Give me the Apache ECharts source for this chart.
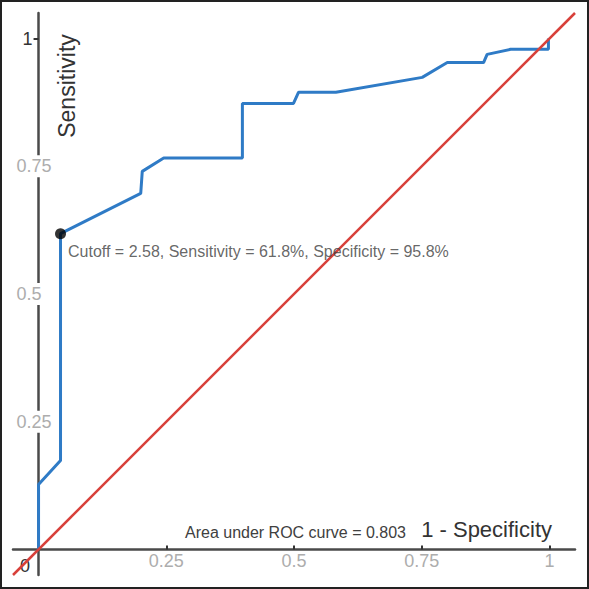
<!DOCTYPE html>
<html>
<head>
<meta charset="utf-8">
<script src="https://cdn.jsdelivr.net/npm/echarts@6/dist/echarts.min.js"></script>
<style>
html,body{margin:0;padding:0;background:#fff;}
#chart{width:589px;height:589px;}
</style>
</head>
<body>
<div id="chart"></div>
<script>
// ROC curve points (1 - specificity, sensitivity)
const fpr = [0, 0, 0.043, 0.043, 0.200, 0.203, 0.245, 0.399, 0.399, 0.499, 0.509, 0.582, 0.751, 0.800, 0.871, 0.878, 0.924, 0.998, 0.998];
const tpr = [0, 0.127, 0.174, 0.618, 0.697, 0.740, 0.766, 0.766, 0.873, 0.873, 0.895, 0.895, 0.924, 0.953, 0.953, 0.969, 0.979, 0.979, 1.000];
// reference diagonal
const diagX = [-0.05, 1.05];
const diagY = [-0.05, 1.05];
// optimal cutoff point
const cutoffPoint = [0.043, 0.618];
const cutoffText = 'Cutoff = 2.58, Sensitivity = 61.8%, Specificity = 95.8%';
const aucText = 'Area under ROC curve = 0.803';
const xTitle = '1 - Specificity';
const yTitle = 'Sensitivity';
const xTicks = [0.25, 0.5, 0.75, 1];
const yTicks = [0.25, 0.5, 0.75, 1];
const originLabel = '0';

const FONT = "'Liberation Sans', Arial, sans-serif";
const chart = echarts.init(document.getElementById('chart'), null, {renderer: 'svg'});

const rocData = fpr.map((x, i) => [x, tpr[i]]);
const diagData = diagX.map((x, i) => [x, diagY[i]]);

const fmt = v => String(Math.round(v * 100) / 100);

// axes cross at zero: shift them inward from the grid edges
const AX_MIN = -0.05, AX_MAX = 1.05;
const GRID = {left: 13, right: 14, top: 13, bottom: 14};
const plotW = 589 - GRID.left - GRID.right;
const plotH = 589 - GRID.top - GRID.bottom;
const xShift = -(0 - AX_MIN) / (AX_MAX - AX_MIN) * plotW;
const yShift = -(0 - AX_MIN) / (AX_MAX - AX_MIN) * plotH;

chart.setOption({
  backgroundColor: '#fff',
  animation: false,
  grid: Object.assign({containLabel: false, outerBoundsMode: 'none'}, GRID),
  xAxis: {
    type: 'value', min: AX_MIN, max: AX_MAX, position: 'bottom', offset: yShift,
    axisLine: {onZero: false, lineStyle: {color: '#4a4a4a', width: 2.5}},
    axisTick: {show: true, inside: true, length: 4, customValues: xTicks, lineStyle: {color: '#333', width: 2}},
    axisLabel: {
      customValues: xTicks, margin: 3, fontSize: 18, color: '#adadad', fontFamily: FONT,
      formatter: v => fmt(v)
    },
    splitLine: {show: false}
  },
  yAxis: {
    type: 'value', min: AX_MIN, max: AX_MAX, position: 'left', offset: xShift,
    axisLine: {onZero: false, lineStyle: {color: '#4a4a4a', width: 2.5}},
    axisTick: {show: true, length: 5, customValues: yTicks, lineStyle: {color: '#333', width: 2}},
    axisLabel: {
      customValues: yTicks, margin: 22, align: 'left', fontSize: 18, fontFamily: FONT,
      backgroundColor: '#fff', padding: [2, 0, 2, 0],
      formatter: v => (Math.abs(v - 1) < 1e-9 ? '{d|' + fmt(v) + '}' : '{g|' + fmt(v) + '}'),
      rich: {
        d: {color: '#333', fontSize: 18, fontFamily: FONT, padding: [0, 0, 0, 6]},
        g: {color: '#adadad', fontSize: 18, fontFamily: FONT}
      }
    },
    splitLine: {show: false}
  },
  series: [
    {
      type: 'line', data: rocData, showSymbol: false, symbol: 'none',
      lineStyle: {color: '#2f7bc6', width: 3}, z: 3
    },
    {
      type: 'line', data: diagData, showSymbol: false, symbol: 'none',
      lineStyle: {color: '#d8403a', width: 2.5}, z: 4
    },
    {
      type: 'scatter', data: [cutoffPoint], symbolSize: 11,
      itemStyle: {color: '#000'}, z: 5,
      label: {
        show: true, position: 'right', distance: 2, offset: [0, 18],
        formatter: cutoffText, fontSize: 16, color: '#404040', fontFamily: FONT
      }
    }
  ],
  graphic: [
    {
      type: 'text', x: 67, y: 86, rotation: Math.PI / 2,
      style: {text: yTitle, fontSize: 23, fill: '#333', fontFamily: FONT, align: 'center', verticalAlign: 'middle'}
    },
    {
      type: 'text', x: 552, y: 529,
      style: {text: xTitle, fontSize: 22, fill: '#333', fontFamily: FONT, align: 'right', verticalAlign: 'middle'}
    },
    {
      type: 'text', x: 406, y: 532,
      style: {text: aucText, fontSize: 16, fill: '#404040', fontFamily: FONT, align: 'right', verticalAlign: 'middle'}
    },
    {
      type: 'text', x: 25, y: 566, z: 1,
      style: {text: originLabel, fontSize: 18, fill: '#333', fontFamily: FONT, align: 'center', verticalAlign: 'middle'}
    },
    {
      type: 'rect', shape: {x: 1, y: 1, width: 587, height: 587},
      style: {fill: 'none', stroke: '#222', lineWidth: 2}, z: 100
    }
  ]
});
</script>
</body>
</html>
